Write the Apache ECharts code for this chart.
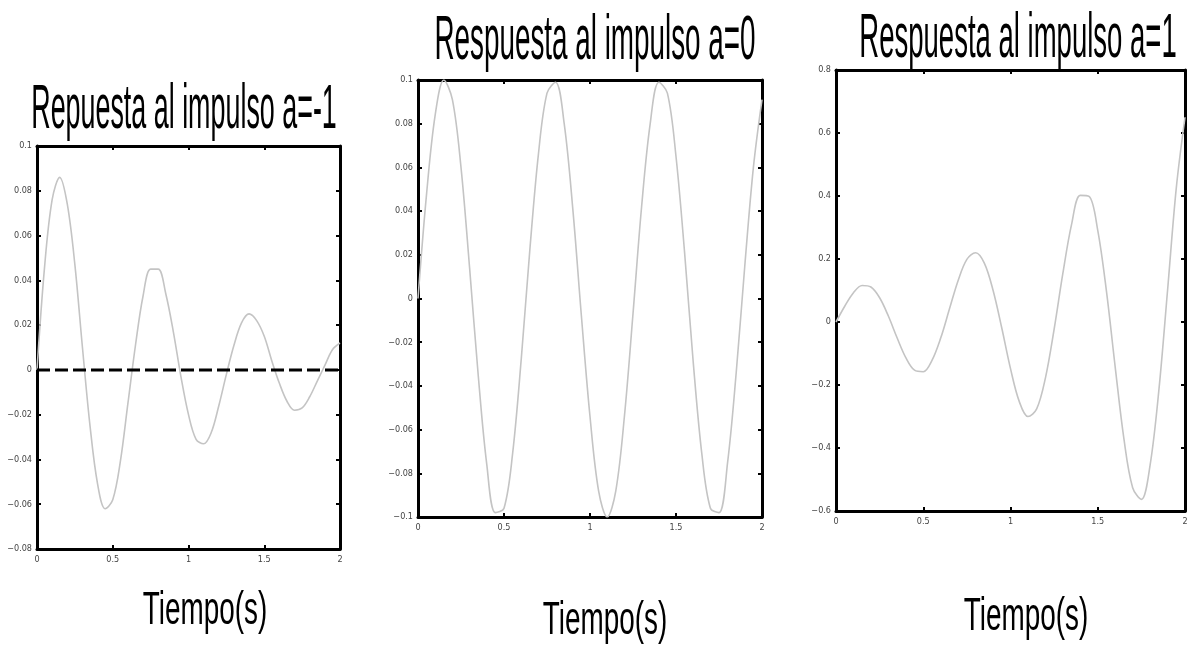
<!DOCTYPE html>
<html><head><meta charset="utf-8">
<script src="https://cdn.jsdelivr.net/npm/echarts@6/dist/echarts.min.js"></script>
<style>html,body{margin:0;padding:0;background:#fff}#c{width:1194px;height:654px}</style>
</head><body><div id="c"></div>
<script>
// sample times (s)
const times = [0,0.05,0.1,0.15,0.2,0.25,0.3,0.35,0.4,0.45,0.5,0.55,0.6,0.65,0.7,0.75,0.8,0.85,0.9,0.95,1,
  1.05,1.1,1.15,1.2,1.25,1.3,1.35,1.4,1.45,1.5,1.55,1.6,1.65,1.7,1.75,1.8,1.85,1.9,1.95,2];
// a = -1
const respA_m1 = [0,0.046,0.076,0.086,0.074,0.047,0.010,-0.025,-0.051,-0.062,-0.058,-0.041,-0.015,0.011,0.033,0.045,0.045,0.034,0.017,-0.003,-0.020,
  -0.031,-0.033,-0.028,-0.016,-0.002,0.011,0.021,0.025,0.022,0.015,0.004,-0.006,-0.014,-0.018,-0.017,-0.012,-0.005,0.002,0.009,0.012];
// a = 0
const respA_0 = [0,0.048,0.084,0.100,0.091,0.060,0.014,-0.035,-0.076,-0.098,-0.096,-0.071,-0.028,0.022,0.066,0.094,0.099,0.080,0.041,-0.008,-0.054,
  -0.088,-0.100,-0.088,-0.054,-0.007,0.042,0.080,0.099,0.094,0.065,0.021,-0.029,-0.071,-0.096,-0.098,-0.075,-0.034,0.015,0.060,0.091];
// a = 1
const respA_1 = [0,0.050,0.093,0.116,0.111,0.077,0.019,-0.050,-0.113,-0.153,-0.158,-0.122,-0.051,0.041,0.132,0.199,0.220,0.187,0.101,-0.019,-0.148,
  -0.252,-0.300,-0.276,-0.178,-0.023,0.154,0.310,0.402,0.399,0.291,0.097,-0.143,-0.371,-0.526,-0.563,-0.454,-0.218,0.100,0.425,0.650];
// dashed reference line in panel 1
const zeroLineX = [0, 2];
const zeroLineY = [0, 0];

const titles = ['Repuesta al impulso a=-1', 'Respuesta al impulso a=0', 'Respuesta al impulso a=1'];
const xLabelText = 'Tiempo(s)';
const yRanges = [[-0.08, 0.1, 0.02], [-0.1, 0.1, 0.02], [-0.6, 0.8, 0.2]];

const grids = [
  {left: 37, top: 146, width: 303, height: 403},
  {left: 418, top: 80, width: 344, height: 437},
  {left: 836, top: 70, width: 349, height: 441}
];

const FONT = '"Liberation Sans", Arial, sans-serif';
const TICKFONT = '"Liberation Sans Narrow", "DejaVu Sans Condensed", "Liberation Sans", sans-serif';
const fmt = v => { const r = Math.round(v * 1000) / 1000; return String(r).replace('-', '\u2212'); };

const xAxes = [], yAxes = [];
grids.forEach((g, i) => {
  const base = {
    gridIndex: i, type: 'value',
    axisLine: {show: true, onZero: false, lineStyle: {color: '#000', width: 3}},
    axisTick: {show: true, inside: true, length: 4, lineStyle: {color: '#000', width: 2}},
    splitLine: {show: false}
  };
  xAxes.push(Object.assign({}, base, {position: 'bottom', min: 0, max: 2, interval: 0.5,
    axisLabel: {fontSize: 9, color: '#444', fontFamily: TICKFONT, margin: 6, formatter: fmt}}));
  xAxes.push(Object.assign({}, base, {position: 'top', min: 0, max: 2, interval: 0.5, axisLabel: {show: false}}));
  const [mn, mx, iv] = yRanges[i];
  yAxes.push(Object.assign({}, base, {position: 'left', min: mn, max: mx, interval: iv,
    axisLabel: {fontSize: 9, color: '#444', fontFamily: TICKFONT, margin: 5, formatter: fmt}}));
  yAxes.push(Object.assign({}, base, {position: 'right', min: mn, max: mx, interval: iv, axisLabel: {show: false}}));
});

const curves = [respA_m1, respA_0, respA_1];
const series = curves.map((arr, i) => ({
  type: 'line', xAxisIndex: i * 2, yAxisIndex: i * 2, showSymbol: false, smooth: 0.35,
  data: times.map((t, k) => [t, arr[k]]),
  lineStyle: {color: '#c4c4c4', width: 1.6}, z: 3
}));
series.push({
  type: 'line', xAxisIndex: 0, yAxisIndex: 0, showSymbol: false,
  data: zeroLineX.map((x, k) => [x, zeroLineY[k]]),
  lineStyle: {color: '#000', width: 3, type: [13, 5]}, z: 4
});

const titlePos = [[184, 80], [595, 11], [1018, 9]];
const titleScaleX = [0.84, 0.87, 0.86];
const xlabPos = [[205, 588], [605, 598], [1026, 594]];
const graphic = [];
titles.forEach((t, i) => {
  graphic.push({type: 'text', x: titlePos[i][0], y: titlePos[i][1], scaleX: titleScaleX[i], scaleY: 1.95, z: 10,
    style: {text: t, font: '32px ' + FONT, fill: '#000', align: 'center', verticalAlign: 'top'}});
  graphic.push({type: 'text', x: xlabPos[i][0], y: xlabPos[i][1], scaleX: 0.82, scaleY: 1.35, z: 10,
    style: {text: xLabelText, font: '34px ' + FONT, fill: '#000', align: 'center', verticalAlign: 'top'}});
});

const chart = echarts.init(document.getElementById('c'), null, {renderer: 'canvas'});
chart.setOption({
  animation: false,
  backgroundColor: '#fff',
  grid: grids,
  xAxis: xAxes,
  yAxis: yAxes,
  series: series,
  graphic: graphic
});
</script>
</body></html>
